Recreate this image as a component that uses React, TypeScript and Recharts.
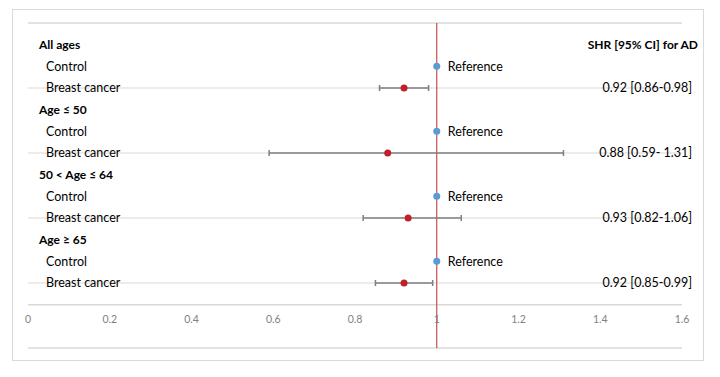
import React from "react";
import {
  ComposedChart,
  Scatter,
  ErrorBar,
  XAxis,
  YAxis,
  ReferenceLine,
  LabelList,
} from "recharts";

/* ─── Datos ─────────────────────────────────────────────────────────────── */

const groups = ["All ages", "Age ≤ 50", "50 < Age ≤ 64", "Age ≥ 65"];
const arms = ["Control", "Breast cancer"];
const referenceValue = 1;
const shr = [0.92, 0.88, 0.93, 0.92];
const ciLow = [0.86, 0.59, 0.82, 0.85];
const ciHigh = [0.98, 1.31, 1.06, 0.99];
const ciText = ["0.92 [0.86-0.98]", "0.88 [0.59- 1.31]", "0.93 [0.82-1.06]", "0.92 [0.85-0.99]"];
const headerRight = "SHR [95% CI] for AD";
const xTicks = [0, 0.2, 0.4, 0.6, 0.8, 1, 1.2, 1.4, 1.6];

/* ─── Filas derivadas ───────────────────────────────────────────────────── */

type Row = { row: number; label: string; kind: "header" | "arm"; right: string };
const rows: Row[] = [];
groups.forEach((g, i) => {
  rows.push({ row: i * 3, label: g, kind: "header", right: i === 0 ? headerRight : "" });
  rows.push({ row: i * 3 + 1, label: arms[0], kind: "arm", right: "" });
  rows.push({ row: i * 3 + 2, label: arms[1], kind: "arm", right: ciText[i] });
});
const rowTicks = rows.map((r) => r.row);

const controlData = groups.map((_, i) => ({ x: referenceValue, y: i * 3 + 1 }));
const cancerData = groups.map((_, i) => ({
  x: shr[i],
  y: i * 3 + 2,
  err: [+(shr[i] - ciLow[i]).toFixed(2), +(ciHigh[i] - shr[i]).toFixed(2)],
}));
const gridRows = groups.map((_, i) => i * 3 + 2);

const FONT = "Lato, 'Open Sans', sans-serif";
const GRID = "#d9d9d9";

/* ─── Ticks ─────────────────────────────────────────────────────────────── */

function LeftTick({ x, y, payload }: any) {
  const r = rows.find((d) => d.row === payload.value);
  if (!r) return null;
  const header = r.kind === "header";
  return (
    <text
      x={x + (header ? 11 : 18)}
      y={y}
      dy="0.35em"
      fontFamily={FONT}
      fontSize={header ? 12 : 12.5}
      fontWeight={header ? 700 : 400}
      fill="#000"
    >
      {r.label}
    </text>
  );
}

function RightTick({ x, y, payload }: any) {
  const r = rows.find((d) => d.row === payload.value);
  if (!r || !r.right) return null;
  const header = r.kind === "header";
  return (
    <text
      x={x + (header ? 16 : 10)}
      y={y}
      dy="0.35em"
      textAnchor="end"
      fontFamily={FONT}
      fontSize={header ? 12 : 12.5}
      fontWeight={header ? 700 : 400}
      fill="#000"
    >
      {r.right}
    </text>
  );
}

function BottomTick({ x, y, payload }: any) {
  return (
    <text x={x} y={y - 29} dy="0.35em" textAnchor="middle" fontFamily={FONT} fontSize={10.5} fill="#7f7f7f">
      {String(payload.value)}
    </text>
  );
}

const Dot = (color: string) => (props: any) => <circle cx={props.cx} cy={props.cy} r={3.5} fill={color} />;

function RefLabel(props: any) {
  const cx = props.x + (props.width || 0) / 2;
  const cy = props.y + (props.height || 0) / 2;
  return (
    <text x={cx + 11} y={cy} dy="0.35em" fontFamily={FONT} fontSize={12.5} fill="#000">
      Reference
    </text>
  );
}

/* ─── Componente principal ──────────────────────────────────────────────── */

export default function App() {
  return (
    <div style={{ position: "fixed", left: 0, top: 0, width: 720, height: 377, background: "#fff" }}>
      <div
        style={{
          position: "absolute",
          left: 12,
          top: 9,
          width: 692,
          height: 352,
          border: `1px solid ${GRID}`,
          boxSizing: "border-box",
        }}
      />
      <div style={{ position: "absolute", left: 0, top: 0 }}>
        <ComposedChart width={720} height={377} margin={{ top: 23, right: 37, bottom: 28, left: 27 }}>
          <XAxis
            type="number"
            dataKey="x"
            domain={[0, 1.6]}
            ticks={xTicks}
            axisLine={false}
            tickLine={false}
            tickSize={0}
            tickMargin={0}
            height={1}
            tick={<BottomTick />}
            allowDataOverflow
          />
          <YAxis
            yAxisId="left"
            type="number"
            dataKey="y"
            domain={[-1, 14]}
            ticks={rowTicks}
            reversed
            width={1}
            axisLine={false}
            tickLine={false}
            tickSize={0}
            tickMargin={0}
            interval={0}
            tick={<LeftTick />}
            allowDataOverflow
          />
          <YAxis
            yAxisId="right"
            orientation="right"
            type="number"
            domain={[-1, 14]}
            ticks={rowTicks}
            reversed
            width={1}
            axisLine={false}
            tickLine={false}
            tickSize={0}
            tickMargin={0}
            interval={0}
            tick={<RightTick />}
            allowDataOverflow
          />

          <ReferenceLine yAxisId="left" y={-1} stroke={GRID} strokeWidth={1.5} />
          {gridRows.map((r) => (
            <ReferenceLine key={r} yAxisId="left" y={r} stroke={GRID} strokeWidth={1} />
          ))}
          <ReferenceLine yAxisId="left" y={12} stroke={GRID} strokeWidth={1.5} />
          <ReferenceLine yAxisId="left" y={14} stroke={GRID} strokeWidth={1.5} />
          <ReferenceLine yAxisId="left" x={referenceValue} stroke="#c0504d" strokeWidth={1.2} />

          <Scatter yAxisId="left" data={cancerData} shape={Dot("#c0202a")} isAnimationActive={false}>
            <ErrorBar dataKey="err" direction="x" stroke="#7f7f7f" strokeWidth={1.5} width={3} />
          </Scatter>
          <Scatter yAxisId="left" data={controlData} shape={Dot("#5b9bd5")} isAnimationActive={false}>
            <LabelList dataKey="x" content={<RefLabel />} />
          </Scatter>
        </ComposedChart>
      </div>
    </div>
  );
}
